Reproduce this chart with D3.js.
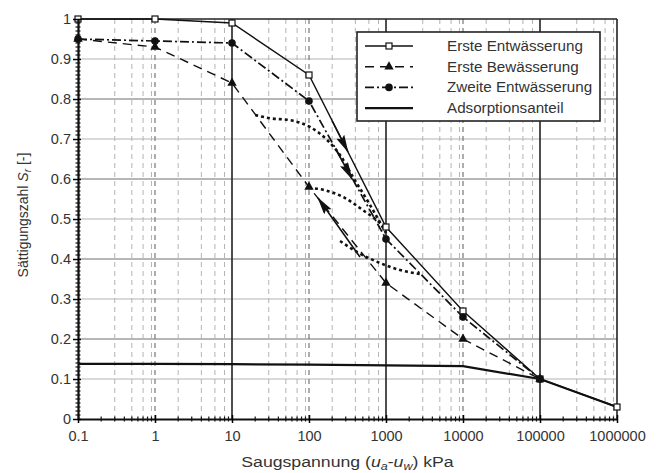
<!DOCTYPE html>
<html>
<head>
<meta charset="utf-8">
<script src="https://cdn.jsdelivr.net/npm/d3@7"></script>
<style>
body { margin: 0; background: #fff; }
text { font-family: "Liberation Sans", Arial, sans-serif; }
</style>
</head>
<body>
<svg id="chart"></svg>
<script>
// values
const suction = [0.1, 1, 10, 100, 1000, 10000, 100000, 1000000];
const suctionLabels = ["0.1", "1", "10", "100", "1000", "10000", "100000", "1000000"];
const srTicks = [0, 0.1, 0.2, 0.3, 0.4, 0.5, 0.6, 0.7, 0.8, 0.9, 1];

const ersteEntwaesserung = [1, 1, 0.99, 0.86, 0.48, 0.27, 0.10, 0.03];
const ersteBewaesserung = [0.95, 0.93, 0.84, 0.58, 0.34, 0.20, 0.10, null];
const zweiteEntwaesserung = [0.95, 0.945, 0.94, 0.795, 0.45, 0.255, 0.10, null];
const adsorptionsanteil = [0.138, 0.138, 0.137, 0.136, 0.134, 0.132, 0.10, 0.03];

// dotted scanning curves
const scanA_suction = [20, 31, 57, 103, 171, 253, 372, 620, 1000];
const scanA_sr = [0.76, 0.752, 0.747, 0.73, 0.698, 0.66, 0.605, 0.535, 0.465];
const scanB_suction = [100, 161, 277, 502, 835, 1000];
const scanB_sr = [0.578, 0.572, 0.555, 0.522, 0.49, 0.475];
const scanC_suction = [253, 420, 835, 1520, 2770];
const scanC_sr = [0.445, 0.4175, 0.39, 0.3725, 0.3625];

// direction arrows: [suction, Sr] from -> to
const arrowFrom = [[200, 0.745], [225, 0.673], [459, 0.405]];
const arrowTo = [[321, 0.668], [363, 0.60], [131, 0.5525]];

const legendNames = ["Erste Entwässerung", "Erste Bewässerung", "Zweite Entwässerung", "Adsorptionsanteil"];

const svg_size = {width: 656, height: 473};
const margin = {top: 19, right: 39, bottom: 54, left: 78};
const w = svg_size.width - margin.left - margin.right;
const h = svg_size.height - margin.top - margin.bottom;

const svg = d3.select("#chart")
    .attr("width", svg_size.width)
    .attr("height", svg_size.height);

svg.append("defs").append("marker")
    .attr("id", "head")
    .attr("markerUnits", "userSpaceOnUse")
    .attr("viewBox", "0 0 18 9")
    .attr("markerWidth", 18)
    .attr("markerHeight", 9)
    .attr("refX", 17)
    .attr("refY", 4.5)
    .attr("orient", "auto")
    .append("path")
    .attr("d", "M0,0 L18,4.5 L0,9 L3,4.5 Z")
    .attr("fill", "#111");

const plot = svg.append("g")
    .attr("transform", `translate(${margin.left},${margin.top})`);

const x = d3.scaleLog().domain([0.1, 1e6]).range([0, w]);
const y = d3.scaleLinear().domain([0, 1]).range([h, 0]);

// horizontal grid
plot.append("g").selectAll("line")
    .data(srTicks.slice(1, -1))
    .enter().append("line")
    .attr("x1", 0).attr("x2", w)
    .attr("y1", d => y(d)).attr("y2", d => y(d))
    .attr("stroke", d => Math.round(d * 10) % 2 === 0 ? "#6e6e6e" : "#cdcdcd")
    .attr("stroke-width", d => Math.round(d * 10) % 2 === 0 ? 1 : 1.5);

// vertical minor grid, alternating pattern per decade
const minorGrid = [];
const minorTicks = [];
for (let k = -1; k <= 5; k++) {
    const base = Math.pow(10, k);
    const mults = Math.abs(k) % 2 === 1 ? [3, 5, 7, 9] : [2, 4, 6, 8];
    mults.forEach(m => minorGrid.push(m * base));
    for (let m = 2; m <= 9; m++) minorTicks.push(m * base);
}
plot.append("g").selectAll("line")
    .data(minorGrid)
    .enter().append("line")
    .attr("x1", d => x(d)).attr("x2", d => x(d))
    .attr("y1", 0).attr("y2", h)
    .attr("stroke", "#b4b4b4")
    .attr("stroke-dasharray", "5,4");

plot.append("g").selectAll("line")
    .data(suction.slice(1, -1))
    .enter().append("line")
    .attr("x1", d => x(d)).attr("x2", d => x(d))
    .attr("y1", 0).attr("y2", h)
    .attr("stroke", (d, i) => i % 2 === 0 ? "#777" : "#222")
    .attr("stroke-width", (d, i) => i % 2 === 0 ? 1.2 : 1.6)
    .attr("stroke-dasharray", (d, i) => i % 2 === 0 ? "5,4" : null);

// frame top and right
plot.append("line").attr("x1", 0).attr("x2", w).attr("y1", y(1)).attr("y2", y(1))
    .attr("stroke", "#222").attr("stroke-width", 1.6);
plot.append("line").attr("x1", x(1e6)).attr("x2", x(1e6)).attr("y1", 0).attr("y2", h)
    .attr("stroke", "#222").attr("stroke-width", 1.6);

const line = d3.line()
    .defined(d => d[1] != null)
    .x(d => x(d[0]))
    .y(d => y(d[1]));
const smooth = d3.line()
    .curve(d3.curveMonotoneX)
    .x(d => x(d[0]))
    .y(d => y(d[1]));

// series
plot.append("path")
    .datum(d3.zip(suction, adsorptionsanteil))
    .attr("d", line).attr("fill", "none")
    .attr("stroke", "#111").attr("stroke-width", 2.2);

plot.append("path")
    .datum(d3.zip(suction, ersteEntwaesserung))
    .attr("d", line).attr("fill", "none")
    .attr("stroke", "#111").attr("stroke-width", 1.4);

plot.append("path")
    .datum(d3.zip(suction, ersteBewaesserung))
    .attr("d", line).attr("fill", "none")
    .attr("stroke", "#111").attr("stroke-width", 1.4)
    .attr("stroke-dasharray", "9,6");

plot.append("path")
    .datum(d3.zip(suction, zweiteEntwaesserung))
    .attr("d", line).attr("fill", "none")
    .attr("stroke", "#111").attr("stroke-width", 1.7)
    .attr("stroke-dasharray", "9,3,2,3");

[[scanA_suction, scanA_sr], [scanB_suction, scanB_sr], [scanC_suction, scanC_sr]].forEach(s => {
    plot.append("path")
        .datum(d3.zip(s[0], s[1]))
        .attr("d", smooth).attr("fill", "none")
        .attr("stroke", "#111").attr("stroke-width", 2.6)
        .attr("stroke-dasharray", "3,3");
});

// arrows
plot.append("g").selectAll("line")
    .data(d3.zip(arrowFrom, arrowTo))
    .enter().append("line")
    .attr("x1", d => x(d[0][0])).attr("y1", d => y(d[0][1]))
    .attr("x2", d => x(d[1][0])).attr("y2", d => y(d[1][1]))
    .attr("stroke", "#111").attr("stroke-width", 1.6)
    .attr("marker-end", "url(#head)");

// markers
plot.append("g").selectAll("rect")
    .data(d3.zip(suction, ersteEntwaesserung))
    .enter().append("rect")
    .attr("x", d => x(d[0]) - 3).attr("y", d => y(d[1]) - 3)
    .attr("width", 6).attr("height", 6)
    .attr("fill", "#fff").attr("stroke", "#111").attr("stroke-width", 1.2);

plot.append("g").selectAll("path")
    .data(d3.zip(suction, ersteBewaesserung).filter(d => d[1] != null))
    .enter().append("path")
    .attr("transform", d => `translate(${x(d[0])},${y(d[1])})`)
    .attr("d", d3.symbol(d3.symbolTriangle, 38))
    .attr("fill", "#111");

plot.append("g").selectAll("circle")
    .data(d3.zip(suction, zweiteEntwaesserung).filter(d => d[1] != null))
    .enter().append("circle")
    .attr("cx", d => x(d[0])).attr("cy", d => y(d[1]))
    .attr("r", 3.8).attr("fill", "#111");

// axes
const xAxis = plot.append("g")
    .attr("transform", `translate(0,${h})`)
    .call(d3.axisBottom(x).tickValues(suction)
        .tickFormat((d, i) => suctionLabels[i])
        .tickSize(4).tickSizeOuter(0).tickPadding(8));
xAxis.select(".domain").attr("stroke", "#111").attr("stroke-width", 2.2);
xAxis.selectAll(".tick line").attr("y1", -4).attr("stroke-width", 1.5);
xAxis.selectAll("text").attr("font-size", 14.5).attr("fill", "#333")
    .attr("font-family", "Liberation Sans, Arial, sans-serif");
xAxis.append("g").selectAll("line")
    .data(minorTicks).enter().append("line")
    .attr("x1", d => x(d)).attr("x2", d => x(d))
    .attr("y1", -2.5).attr("y2", 2.5)
    .attr("stroke", "#111").attr("stroke-width", 1.2);

const yAxis = plot.append("g")
    .call(d3.axisLeft(y).tickValues(srTicks)
        .tickFormat(d => String(+d.toFixed(1)))
        .tickSize(5).tickSizeOuter(0).tickPadding(2));
yAxis.select(".domain").attr("stroke", "#111").attr("stroke-width", 2.2);
yAxis.selectAll(".tick line").attr("x1", 3).attr("stroke-width", 1.5);
yAxis.selectAll("text").attr("font-size", 14.5).attr("fill", "#333")
    .attr("font-family", "Liberation Sans, Arial, sans-serif");
yAxis.append("g").selectAll("line")
    .data(d3.range(1, 100).filter(i => i % 10 !== 0).map(i => i / 100))
    .enter().append("line")
    .attr("x1", -2.5).attr("x2", 2.5)
    .attr("y1", d => y(d)).attr("y2", d => y(d))
    .attr("stroke", "#111").attr("stroke-width", 1.2);

// axis titles
const xt = svg.append("text")
    .attr("transform", `translate(${margin.left + w / 2},467) scale(1.14,1)`)
    .attr("text-anchor", "middle").attr("font-size", 15.5).attr("fill", "#333");
xt.append("tspan").text("Saugspannung (");
xt.append("tspan").attr("font-style", "italic").text("u");
xt.append("tspan").attr("font-style", "italic").attr("font-size", 11).attr("dy", 3).text("a");
xt.append("tspan").attr("dy", -3).text("-");
xt.append("tspan").attr("font-style", "italic").text("u");
xt.append("tspan").attr("font-style", "italic").attr("font-size", 11).attr("dy", 3).text("w");
xt.append("tspan").attr("dy", -3).text(") kPa");

const yt = svg.append("text")
    .attr("transform", `translate(28,${margin.top + h / 2 - 4}) rotate(-90)`)
    .attr("text-anchor", "middle").attr("font-size", 14).attr("fill", "#333");
yt.append("tspan").text("Sättigungszahl ");
yt.append("tspan").attr("font-style", "italic").text("S");
yt.append("tspan").attr("font-style", "italic").attr("font-size", 10).attr("dy", 3).text("r");
yt.append("tspan").attr("dy", -3).text(" [-]");

// legend
const legend = svg.append("g").attr("transform", "translate(357,32)");
legend.append("rect")
    .attr("width", 243).attr("height", 89)
    .attr("fill", "#fff").attr("stroke", "#222").attr("stroke-width", 1.6);
const legendDash = [null, "9,6", "9,3,2,3", null];
const legendWidth = [1.4, 1.4, 1.7, 2.2];
legendNames.forEach((name, i) => {
    const ly = 14 + i * 20.7;
    legend.append("line")
        .attr("x1", 8).attr("x2", 56).attr("y1", ly).attr("y2", ly)
        .attr("stroke", "#111").attr("stroke-width", legendWidth[i])
        .attr("stroke-dasharray", legendDash[i]);
    if (i === 0) {
        legend.append("rect").attr("x", 29).attr("y", ly - 3).attr("width", 6).attr("height", 6)
            .attr("fill", "#fff").attr("stroke", "#111").attr("stroke-width", 1.2);
    } else if (i === 1) {
        legend.append("path").attr("transform", `translate(32,${ly})`)
            .attr("d", d3.symbol(d3.symbolTriangle, 38)).attr("fill", "#111");
    } else if (i === 2) {
        legend.append("circle").attr("cx", 32).attr("cy", ly).attr("r", 3.8).attr("fill", "#111");
    }
    legend.append("text")
        .attr("x", 90).attr("y", ly + 5)
        .attr("font-size", 15.2).attr("fill", "#333")
        .text(name);
});
</script>
</body>
</html>
